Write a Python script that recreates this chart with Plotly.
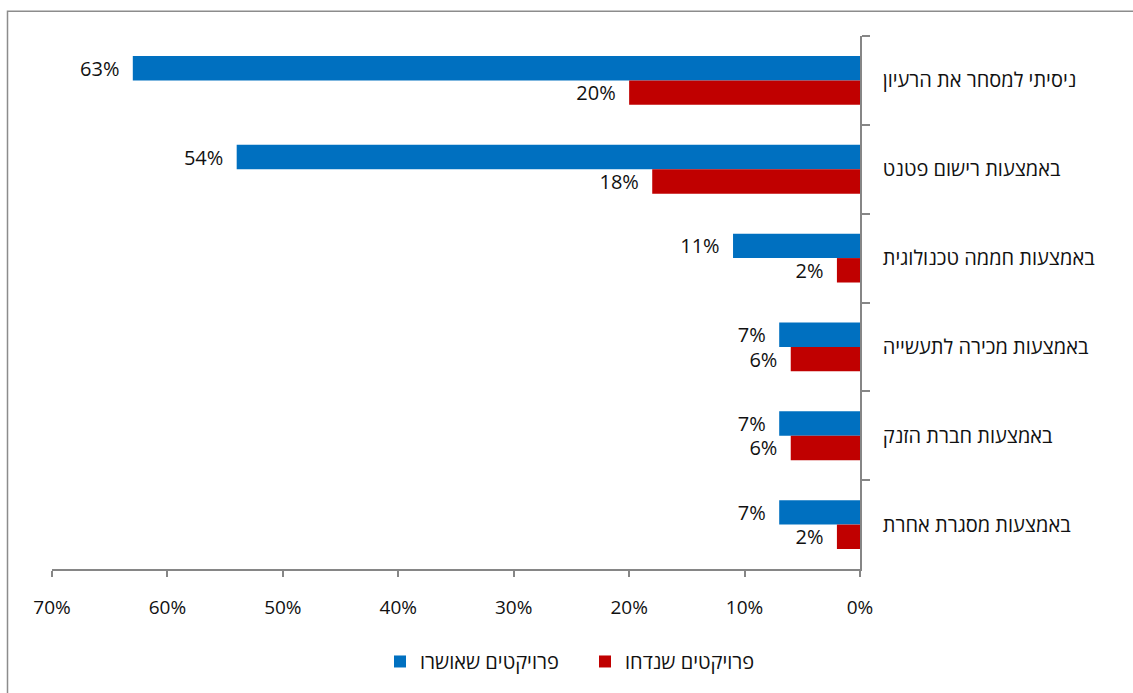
import plotly.graph_objects as go

# Routes to commercialisation, share of projects (%)
categories = [
    "ניסיתי למסחר את הרעיון",
    "באמצעות רישום פטנט",
    "באמצעות חממה טכנולוגית",
    "באמצעות מכירה לתעשייה",
    "באמצעות חברת הזנק",
    "באמצעות מסגרת אחרת",
]
approved = [63, 54, 11, 7, 7, 7]
rejected = [20, 18, 2, 6, 6, 2]
x_ticks = [0, 10, 20, 30, 40, 50, 60, 70]

series_names = ["פרויקטים שאושרו", "פרויקטים שנדחו"]
colors = ["#0070C0", "#C00000"]

FONT = "Open Sans, DejaVu Sans, sans-serif"
TXT = "#111111"
W, H = 1133, 693
ML, MR, MT, MB = 52, 273, 36, 121
PW, PH = W - ML - MR, H - MT - MB

fig = go.Figure()
for name, vals, col in zip(series_names, [approved, rejected], colors):
    fig.add_trace(go.Bar(
        y=categories, x=vals, name=name, orientation="h",
        marker=dict(color=col, line=dict(width=0)),
        text=[f"{v}%\u00a0\u00a0" for v in vals],
        textposition="outside", cliponaxis=False, constraintext="none",
        textfont=dict(family=FONT, size=20, color=TXT),
    ))

# outer chart frame (open to the right and bottom)
def px_x(p):
    return (p - ML) / PW

def px_y(p):
    return (MT + PH - p) / PH

fig.add_shape(type="rect", xref="paper", yref="paper",
              x0=px_x(7.5), x1=px_x(1145), y0=px_y(705), y1=px_y(11),
              line=dict(color="#8c8c8c", width=1.5), fillcolor="rgba(0,0,0,0)",
              layer="below")

fig.update_layout(
    width=W, height=H,
    margin=dict(l=ML, r=MR, t=MT, b=MB),
    plot_bgcolor="white", paper_bgcolor="white",
    barmode="group", bargap=0.45, bargroupgap=0,
    font=dict(family=FONT, size=20, color=TXT),
    showlegend=True,
    legend=dict(orientation="h", x=px_x(380), xanchor="left",
                y=px_y(665), yanchor="middle",
                font=dict(family=FONT, size=20, color=TXT),
                itemwidth=30, entrywidth=160, entrywidthmode="pixels"),
    xaxis=dict(
        range=[70, 0], tickvals=x_ticks, ticktext=[f"{t}%" for t in x_ticks],
        showgrid=False, zeroline=False,
        showline=True, linecolor="#868686", linewidth=1.5,
        ticks="outside", ticklen=6, tickcolor="#868686", tickwidth=1.5,
        ticklabelstandoff=14,
        tickfont=dict(family=FONT, size=19, color=TXT),
    ),
    yaxis=dict(
        side="right", autorange="reversed", type="category",
        showgrid=False, zeroline=False,
        showline=True, linecolor="#868686", linewidth=1.5,
        ticks="outside", ticklen=8, tickcolor="#868686", tickwidth=1.5,
        tickson="boundaries", ticklabelstandoff=17,
        tickfont=dict(family=FONT, size=20, color=TXT),
    ),
)

fig.write_html("out.html")
